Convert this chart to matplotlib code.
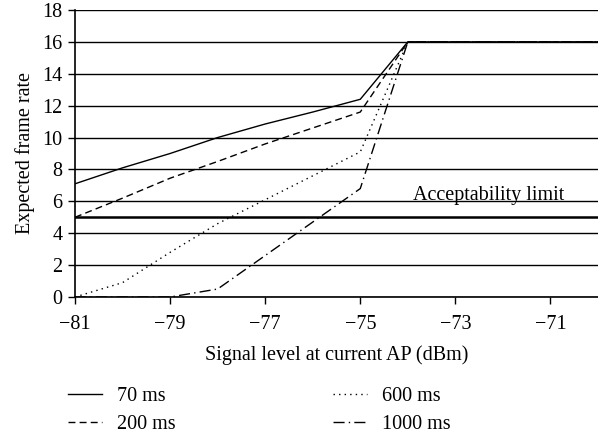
import numpy as np
import matplotlib
matplotlib.use('Agg')
import matplotlib.pyplot as plt

# signal level at current AP (dBm)
signal_dbm = [-81, -80, -79, -78, -77, -76, -75, -74, -73, -72, -71, -70]

# expected frame rate for each handoff delay
rate_70ms = [7.1, 8.1, 9.0, 10.0, 10.85, 11.6, 12.4, 16, 16, 16, 16, 16]
rate_200ms = [5.0, 6.2, 7.45, 8.5, 9.6, 10.6, 11.6, 16, 16, 16, 16, 16]
rate_600ms = [0.0, 0.9, 2.8, 4.6, 6.1, 7.6, 9.1, 16, 16, 16, 16, 16]
rate_1000ms = [0.0, 0.0, 0.0, 0.5, 2.6, 4.7, 6.8, 16, 16, 16, 16, 16]

labels = ['70 ms', '200 ms', '600 ms', '1000 ms']
acceptability_limit = 5

plt.rcParams['font.family'] = ['Liberation Serif', 'DejaVu Serif']
plt.rcParams['font.size'] = 14.5

fig = plt.figure(figsize=(5.98, 4.33), dpi=100)
ax = fig.add_axes([75/598, 1-297/433, 1-75/598, (297-10)/433])

styles = ['-', (0, (5, 3)), (0, (1, 3)), (0, (8, 3, 1, 3))]
series = [rate_70ms, rate_200ms, rate_600ms, rate_1000ms]
handles = []
for vals, ls, lab in zip(series, styles, labels):
    h, = ax.plot(signal_dbm, vals, color='black', lw=1.0, linestyle=ls, label=lab, zorder=3)
    handles.append(h)

ax.axhline(acceptability_limit, color='black', lw=1.8, zorder=2)
ax.text(-73.9, 6.08, 'Acceptability limit', ha='left', va='baseline', fontsize=14.5)

ax.set_xlim(-81, -70)
ax.set_ylim(0, 18)
ax.set_xticks(np.arange(-81, -70, 2))
ax.set_yticks(np.arange(0, 19, 2))
ax.yaxis.grid(True, color='black', lw=1.0)
ax.set_axisbelow(True)
for s in ['top', 'right']:
    ax.spines[s].set_visible(False)
ax.spines['left'].set_linewidth(1.2)
ax.spines['bottom'].set_linewidth(1.2)
ax.tick_params(axis='both', direction='out', length=5, width=1.0, color='black')
ax.tick_params(axis='x', pad=8)
ax.tick_params(axis='y', pad=4)

ax.set_xlabel('Signal level at current AP (dBm)', labelpad=8)
ax.set_ylabel('Expected frame rate', labelpad=5)

fig.legend(handles=handles, labels=labels, ncol=2, loc='upper left',
           bbox_to_anchor=(68/598, 1-387/433), frameon=False, borderpad=0,
           borderaxespad=0, handlelength=1.7, handletextpad=0.75,
           labelspacing=0.45, columnspacing=7.8, fontsize=14.5)

fig.savefig('out.png', dpi=100)
